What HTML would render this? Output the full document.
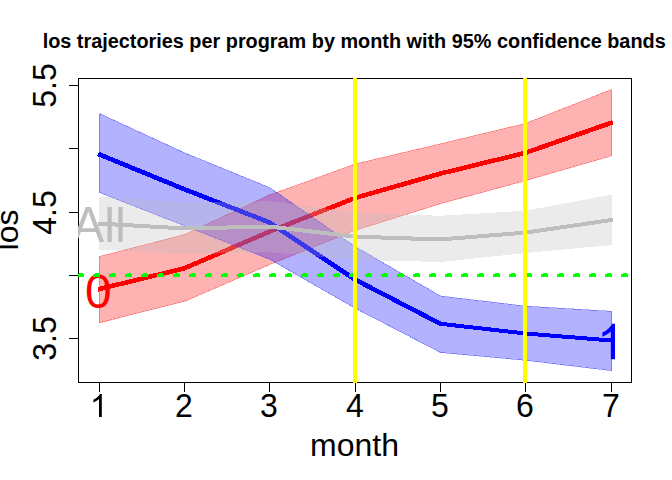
<!DOCTYPE html>
<html><head><meta charset="utf-8"><title>los trajectories</title>
<style>html,body{margin:0;padding:0;background:#fff;}svg{display:block;}</style></head>
<body><svg width="672" height="480" viewBox="0 0 672 480">
<rect width="672" height="480" fill="#fff"/>
<text x="354.2" y="48" text-anchor="middle" font-family="Liberation Sans, sans-serif" font-size="20" font-weight="bold" textLength="623" lengthAdjust="spacingAndGlyphs">los trajectories per program by month with 95% confidence bands</text>
<g transform="translate(354.5,456) scale(1,1)"><text x="0" y="0" text-anchor="middle" font-family="Liberation Sans, sans-serif" font-size="32" font-weight="normal" fill="#000" >month</text></g>
<g transform="translate(18,230) rotate(-90) scale(1,1)"><text x="0" y="0" text-anchor="middle" font-family="Liberation Sans, sans-serif" font-size="32" fill="#000">los</text></g>
<path transform="translate(89.9,417) scale(0.01562,-0.01562)" d="M763 0L583 0L583 1147Q518 1085 412.5 1023Q307 961 223 930L223 1104Q374 1175 487 1276Q600 1377 647 1466L763 1466Z" fill="#000"/>
<g transform="translate(183.8,417) scale(1,1.04)"><text x="0" y="0" text-anchor="middle" font-family="Liberation Sans, sans-serif" font-size="32" font-weight="normal" fill="#000" >2</text></g>
<g transform="translate(268.8,417) scale(1,1.04)"><text x="0" y="0" text-anchor="middle" font-family="Liberation Sans, sans-serif" font-size="32" font-weight="normal" fill="#000" >3</text></g>
<g transform="translate(354.8,417) scale(1,1.04)"><text x="0" y="0" text-anchor="middle" font-family="Liberation Sans, sans-serif" font-size="32" font-weight="normal" fill="#000" >4</text></g>
<g transform="translate(439.8,417) scale(1,1.04)"><text x="0" y="0" text-anchor="middle" font-family="Liberation Sans, sans-serif" font-size="32" font-weight="normal" fill="#000" >5</text></g>
<g transform="translate(524.8,417) scale(1,1.04)"><text x="0" y="0" text-anchor="middle" font-family="Liberation Sans, sans-serif" font-size="32" font-weight="normal" fill="#000" >6</text></g>
<g transform="translate(610.8,417) scale(1,1.04)"><text x="0" y="0" text-anchor="middle" font-family="Liberation Sans, sans-serif" font-size="32" font-weight="normal" fill="#000" >7</text></g>
<g transform="translate(56.2,85.5) rotate(-90) scale(1,1.04)"><text x="0" y="0" text-anchor="middle" font-family="Liberation Sans, sans-serif" font-size="32" fill="#000">5.5</text></g>
<g transform="translate(56.2,212.5) rotate(-90) scale(1,1.04)"><text x="0" y="0" text-anchor="middle" font-family="Liberation Sans, sans-serif" font-size="32" fill="#000">4.5</text></g>
<g transform="translate(56.2,338.5) rotate(-90) scale(1,1.04)"><text x="0" y="0" text-anchor="middle" font-family="Liberation Sans, sans-serif" font-size="32" fill="#000">3.5</text></g>
<rect x="78.5" y="78.5" width="553" height="304" fill="none" stroke="#000" stroke-width="1" shape-rendering="crispEdges"/>
<path d="M99.5 383V392M184.5 383V392M269.5 383V392M355.5 383V392M440.5 383V392M525.5 383V392M611.5 383V392M69 85.5H78M69 148.5H78M69 212.5H78M69 275.5H78M69 338.5H78" stroke="#000" stroke-width="1" fill="none" shape-rendering="crispEdges"/>
<defs><clipPath id="pc"><rect x="78" y="78" width="554" height="305"/></clipPath></defs>
<g clip-path="url(#pc)"><polygon points="99.4,256.5 184.5,234.5 269.5,195 355.5,163.9 440.5,143.8 525.5,123.4 611.5,89.5 611.5,155.9 525.5,180.7 440.5,203.7 355.5,230.3 269.5,264.7 184.5,301.4 99.4,322.8" fill="rgba(255,0,0,0.3)" stroke="rgba(255,0,0,0.3)" stroke-width="1" shape-rendering="crispEdges"/><polyline points="98,289.37 184.5,268.3 269.5,231.6 355.5,197.8 440.5,173.6 525.5,152.8 613,122.17" fill="none" stroke="#f00" stroke-width="4.6" stroke-linejoin="round" stroke-linecap="butt" shape-rendering="crispEdges"/><polygon points="99.4,113.5 184.5,152.8 269.5,187.5 355.5,246.8 440.5,296 525.5,306.1 611.5,311.3 611.5,370.7 525.5,360.3 440.5,352.5 355.5,308.4 269.5,259.2 184.5,225.8 99.4,192.5" fill="rgba(0,0,255,0.3)" stroke="rgba(0,0,255,0.3)" stroke-width="1" shape-rendering="crispEdges"/><polyline points="98,153.89 184.5,189.3 269.5,222.4 355.5,279.8 440.5,323.8 525.5,333.5 613,340.62" fill="none" stroke="#00f" stroke-width="4" stroke-linejoin="round" stroke-linecap="butt" shape-rendering="crispEdges"/><polyline points="98,153.89 184.5,189.3 269.5,222.4 355.5,279.8 440.5,323.8" fill="none" stroke="#00f" stroke-width="4.6" stroke-linejoin="round" stroke-linecap="butt" shape-rendering="crispEdges"/><polygon points="99.4,196.5 184.5,202.3 269.5,201.2 355.5,212.5 440.5,215.8 525.5,210.7 611.5,194.7 611.5,245.1 525.5,253 440.5,262 355.5,259.8 269.5,252.2 184.5,254.3 99.4,249.5" fill="rgba(190,190,190,0.3)" shape-rendering="crispEdges"/><polyline points="98,223.51 184.5,228.45 269.5,226.55 355.5,236.7 440.5,239.45 525.5,232.6 613,219.78" fill="none" stroke="#bebebe" stroke-width="4" stroke-linejoin="round" stroke-linecap="butt" shape-rendering="crispEdges"/><g transform="translate(98.3,308) scale(1,1.0)"><text x="0" y="0" text-anchor="middle" font-family="Liberation Sans, sans-serif" font-size="48" font-weight="normal" fill="#f00" >0</text></g><g transform="translate(72.33,242) scale(1,1.04)"><text x="0" y="0" font-family="Liberation Sans, sans-serif" font-size="48" fill="#bebebe">A</text></g><g transform="translate(104.34,242) scale(1,0.99)"><text x="0" y="0" font-family="Liberation Sans, sans-serif" font-size="48" fill="#bebebe">ll</text></g><path transform="translate(597.15,359.2) scale(0.02344,-0.02414)" d="M763 0L583 0L583 1147Q518 1085 412.5 1023Q307 961 223 930L223 1104Q374 1175 487 1276Q600 1377 647 1466L763 1466Z" fill="#00f"/><path d="M77 275.5H632" stroke="#0f0" stroke-width="3" stroke-dasharray="7 9" fill="none" shape-rendering="crispEdges"/><path d="M79 273.5H632" stroke="#0f0" stroke-width="1" stroke-dasharray="4 12" fill="none" shape-rendering="crispEdges"/><path d="M355 78V383M525 78V383" stroke="#ff0" stroke-width="4" fill="none" shape-rendering="crispEdges"/></g>
</svg></body></html>
